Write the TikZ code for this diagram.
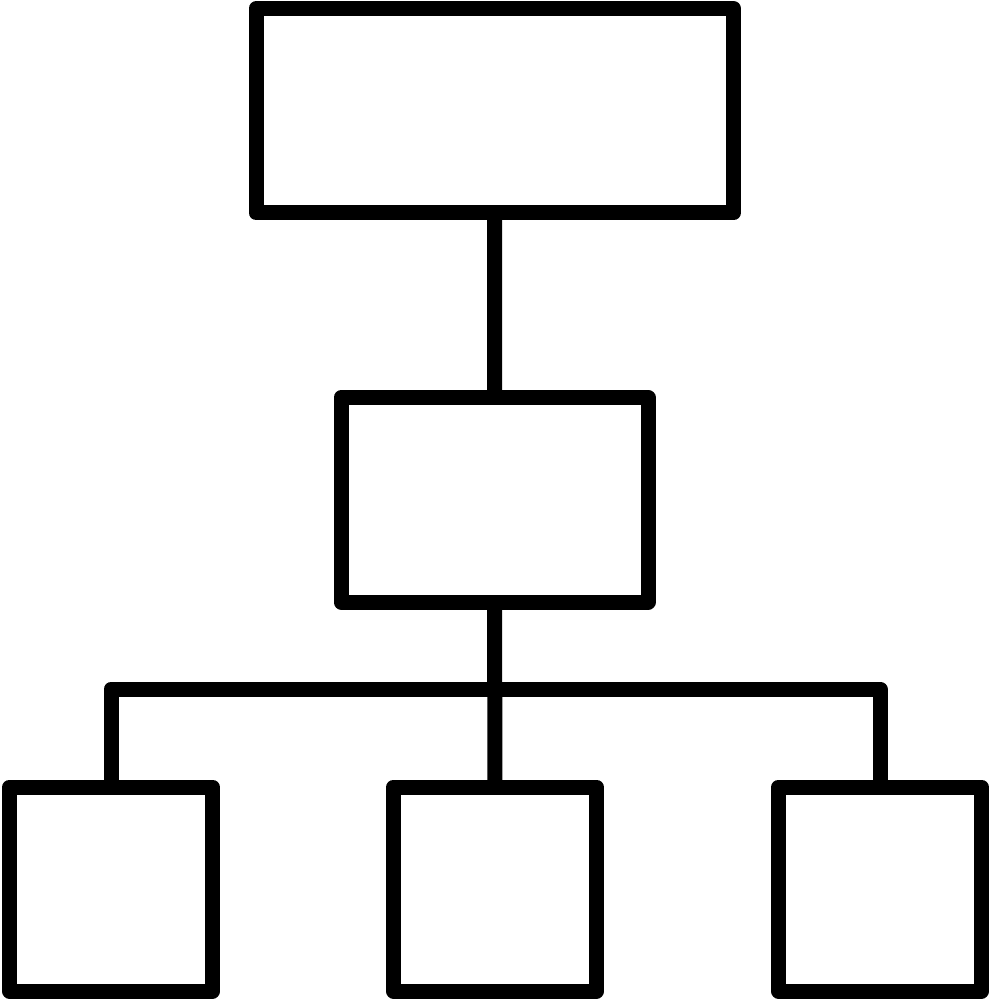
\documentclass[tikz,border=0pt]{standalone}
\begin{document}
\begin{tikzpicture}[x=1pt,y=-1pt,
  box/.style={draw=black,line width=15pt,line join=round,inner sep=0pt,outer sep=0pt,fill=white},
  link/.style={draw=black,line width=15pt,line join=round}]
\useasboundingbox (0,0) rectangle (990,1000);
\node[box,minimum width=477.5pt,minimum height=204.5pt] (top) at (494.75,110.75) {};
\node[box,minimum width=307pt,minimum height=204.5pt] (mid) at (494.5,499.75) {};
\node[box,minimum width=203pt,minimum height=204pt] (b1) at (111,889) {};
\node[box,minimum width=203pt,minimum height=204pt] (b2) at (495,889) {};
\node[box,minimum width=203pt,minimum height=204pt] (b3) at (880,889) {};
\coordinate (bar) at (495,689);
\draw[link] (top.south) -- (mid.north);
\draw[link] (mid.south) -- (b2.north);
\draw[link] (b1.north) -- (b1.north |- bar) -- (b3.north |- bar) -- (b3.north);
\end{tikzpicture}
\end{document}
